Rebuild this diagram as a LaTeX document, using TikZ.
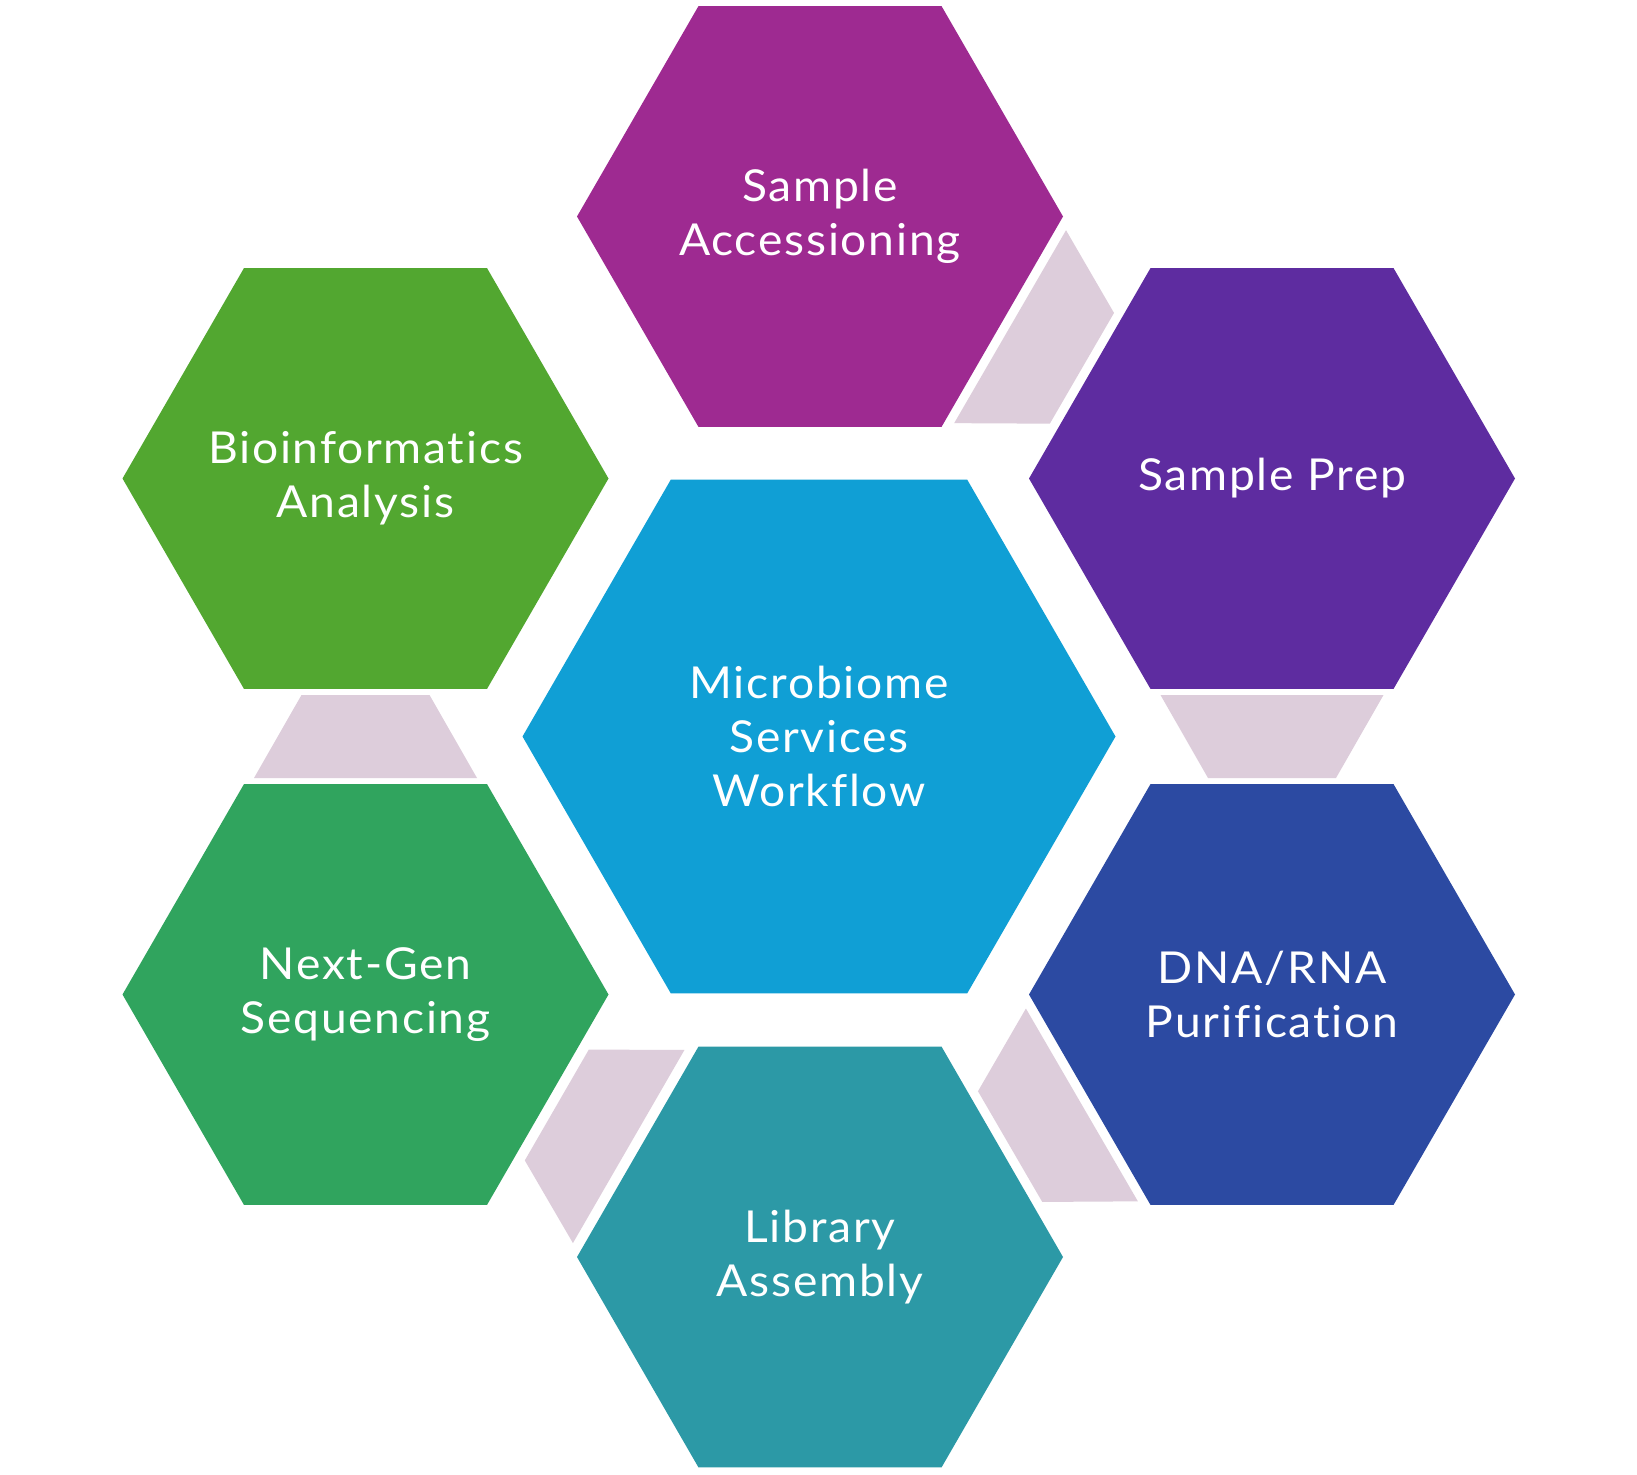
\documentclass[tikz,border=0pt]{standalone}
\usepackage{fontspec}
\setmainfont{Lato}[Ligatures=NoCommon, FakeStretch=1.05, LetterSpace=4]
\usetikzlibrary{shapes.geometric,calc}
\definecolor{cAcc}{RGB}{158,42,145}
\definecolor{cPrep}{RGB}{94,44,160}
\definecolor{cDna}{RGB}{44,74,162}
\definecolor{cLib}{RGB}{44,153,166}
\definecolor{cNgs}{RGB}{48,164,94}
\definecolor{cBio}{RGB}{82,167,48}
\definecolor{cCtr}{RGB}{16,159,213}
\definecolor{cLink}{RGB}{221,205,219}
\tikzset{
  hexnode/.style={regular polygon, regular polygon sides=6, minimum size=486pt,
    inner sep=0pt, outer sep=0pt},
  hextext/.style={text=white, align=center, inner sep=0pt,
    font=\fontsize{44}{54}\selectfont},
  linkfill/.style={fill=cLink}
}
\newcommand\hexlink[2]{%
  \coordinate (lkm) at ($(#1)!0.5!(#2)$);
  \coordinate (lkw) at ($(lkm)!-41.5pt!(#2)$);
  \coordinate (lkn) at ($(lkm)!41.5pt!(#2)$);
  \fill[linkfill] ($(lkw)!111.5pt!90:(#2)$) -- ($(lkn)!64pt!90:(#2)$)
     -- ($(lkn)!64pt!-90:(#2)$) -- ($(lkw)!111.5pt!-90:(#2)$) -- cycle;}
\begin{document}
\begin{tikzpicture}[x=1pt,y=-1pt]
\fill[white] (0,0) rectangle (1637,1474);
\useasboundingbox (0,0) rectangle (1637,1474);
\node[hexnode, fill=cAcc]  (acc)  at (820,216.5)   {};
\node[hexnode, fill=cPrep] (prep) at (1272,478.5)  {};
\node[hexnode, fill=cDna]  (dna)  at (1272,994.5)  {};
\node[hexnode, fill=cLib]  (lib)  at (820,1257)    {};
\node[hexnode, fill=cNgs]  (ngs)  at (365.5,994.5) {};
\node[hexnode, fill=cBio]  (bio)  at (365.5,478.5) {};
\node[hexnode, fill=cCtr, minimum size=593pt] (ctr) at (819,736.5) {};
\node[hextext] (acct)  at (acc)  {Sample\\Accessioning};
\node[hextext] (prept) at (prep) {Sample Prep};
\node[hextext] (dnat)  at (dna)  {DNA/RNA\\Purification};
\node[hextext] (libt)  at (lib)  {Library\\Assembly};
\node[hextext] (ngst)  at (ngs)  {Next-Gen\\Sequencing};
\node[hextext] (biot)  at (bio)  {Bioinformatics\\Analysis};
\node[hextext] (ctrt)  at (ctr)  {Microbiome\\Services\\Workflow};
\hexlink{acc}{prep}
\hexlink{prep}{dna}
\hexlink{dna}{lib}
\hexlink{lib}{ngs}
\hexlink{ngs}{bio}
\end{tikzpicture}
\end{document}
